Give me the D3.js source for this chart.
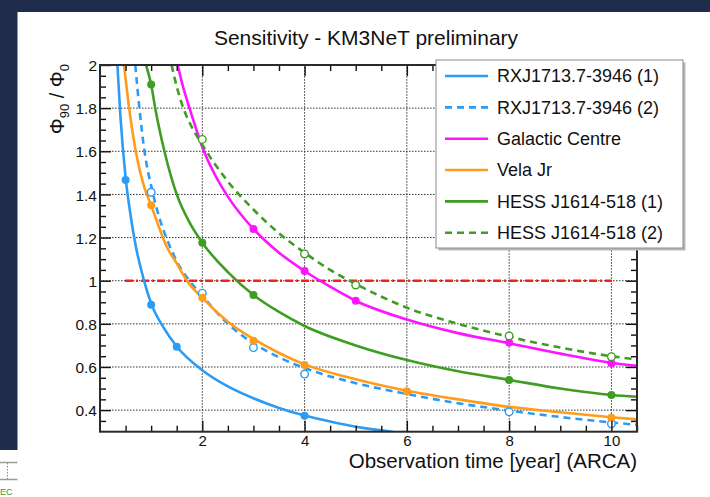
<!DOCTYPE html>
<html><head><meta charset="utf-8">
<script src="https://cdn.jsdelivr.net/npm/d3@7"></script>
<style>
body{margin:0;background:#fff}
svg{display:block}
text{font-family:"Liberation Sans",Arial,Helvetica,sans-serif;fill:#111}
</style></head>
<body><svg id="c" width="710" height="497"></svg>
<script>
// ---------------- data ----------------
const chartTitle = "Sensitivity - KM3NeT preliminary";
const xTitle = "Observation time [year] (ARCA)";
const xTicks = [2, 4, 6, 8, 10];
const xTickLabels = ["2", "4", "6", "8", "10"];
const yTicks = [0.4, 0.6, 0.8, 1, 1.2, 1.4, 1.6, 1.8, 2];
const yTickLabels = ["0.4", "0.6", "0.8", "1", "1.2", "1.4", "1.6", "1.8", "2"];
const legendNames = ["RXJ1713.7-3946 (1)", "RXJ1713.7-3946 (2)", "Galactic Centre", "Vela Jr", "HESS J1614-518 (1)", "HESS J1614-518 (2)"];
const thresholdValue = 1;
const thresholdRange = [0.49, 10];

// fitted curves
const rxj1X = [0.34, 0.4, 0.5, 0.6, 0.7, 0.85, 1.0, 1.25, 1.5, 2.0, 2.5, 3.0, 3.5, 4.0, 4.5, 5.0, 5.72];
const rxj1Y = [2.0, 1.76, 1.48, 1.30, 1.16, 1.01, 0.895, 0.78, 0.695, 0.585, 0.51, 0.455, 0.41, 0.375, 0.347, 0.323, 0.30];
const rxj2X = [0.69, 0.77, 0.87, 1.02, 1.15, 1.33, 1.5, 1.75, 2.0, 2.5, 3.0, 3.5, 4.0, 5.0, 6.0, 7.0, 8.0, 9.0, 10.0, 10.5];
const rxj2Y = [2.0, 1.8, 1.6, 1.42, 1.30, 1.18, 1.09, 1.0, 0.93, 0.80, 0.71, 0.645, 0.595, 0.525, 0.475, 0.432, 0.398, 0.368, 0.343, 0.332];
const gcX = [1.52, 1.6, 1.75, 1.9, 2.0, 2.25, 2.5, 3.0, 3.5, 4.0, 4.5, 5.0, 6.0, 7.0, 8.0, 9.0, 10.0, 10.5];
const gcY = [2.0, 1.92, 1.8, 1.69, 1.62, 1.49, 1.39, 1.24, 1.13, 1.045, 0.972, 0.907, 0.82, 0.757, 0.71, 0.662, 0.62, 0.605];
const velaX = [0.47, 0.57, 0.70, 0.87, 1.0, 1.15, 1.3, 1.5, 1.7, 2.0, 2.5, 3.0, 3.5, 4.0, 5.0, 6.0, 7.0, 8.0, 9.0, 10.0, 10.5];
const velaY = [2.0, 1.8, 1.6, 1.43, 1.35, 1.25, 1.16, 1.08, 1.0, 0.92, 0.81, 0.73, 0.665, 0.612, 0.543, 0.49, 0.45, 0.415, 0.39, 0.367, 0.357];
const hess1X = [0.9, 1.0, 1.08, 1.26, 1.5, 1.75, 2.0, 2.5, 3.0, 3.5, 4.0, 5.0, 6.0, 7.0, 8.0, 9.0, 10.0, 10.5];
const hess1Y = [2.0, 1.91, 1.8, 1.6, 1.4, 1.27, 1.176, 1.04, 0.934, 0.855, 0.79, 0.70, 0.632, 0.58, 0.54, 0.50, 0.47, 0.462];
const hess2X = [1.40, 1.5, 1.63, 1.8, 2.0, 2.5, 3.0, 3.5, 4.0, 4.5, 5.0, 6.0, 7.0, 8.0, 9.0, 10.0, 10.5];
const hess2Y = [2.0, 1.90, 1.8, 1.71, 1.63, 1.46, 1.33, 1.22, 1.13, 1.05, 0.985, 0.875, 0.80, 0.74, 0.69, 0.65, 0.635];

// measured points (markers)
const rxj1PtX = [0.5, 1, 1.5, 4];
const rxj1PtY = [1.467, 0.889, 0.694, 0.374];
const rxj2PtX = [1, 2, 3, 4, 8, 10];
const rxj2PtY = [1.41, 0.942, 0.69, 0.567, 0.392, 0.337];
const gcPtX = [3, 4, 5, 8, 10];
const gcPtY = [1.24, 1.045, 0.907, 0.713, 0.617];
const velaPtX = [1, 2, 3, 4, 6, 10];
const velaPtY = [1.35, 0.921, 0.722, 0.609, 0.487, 0.365];
const hess1PtX = [1, 2, 3, 8, 10];
const hess1PtY = [1.91, 1.176, 0.934, 0.54, 0.47];
const hess2PtX = [2, 4, 5, 8, 10];
const hess2PtY = [1.655, 1.124, 0.98, 0.744, 0.648];

// ---------------- build ----------------
const C_BLUE = "#2b9cf6", C_MAG = "#ff14ff", C_ORA = "#ff9c1c", C_GRN = "#3e9d22", C_RED = "#ff1a1a";
const series = [
  {name: legendNames[0], cx: rxj1X, cy: rxj1Y, px: rxj1PtX, py: rxj1PtY, color: C_BLUE, dash: null, open: false},
  {name: legendNames[1], cx: rxj2X, cy: rxj2Y, px: rxj2PtX, py: rxj2PtY, color: C_BLUE, dash: "7,5", open: true},
  {name: legendNames[2], cx: gcX, cy: gcY, px: gcPtX, py: gcPtY, color: C_MAG, dash: null, open: false},
  {name: legendNames[3], cx: velaX, cy: velaY, px: velaPtX, py: velaPtY, color: C_ORA, dash: null, open: false},
  {name: legendNames[4], cx: hess1X, cy: hess1Y, px: hess1PtX, py: hess1PtY, color: C_GRN, dash: null, open: false},
  {name: legendNames[5], cx: hess2X, cy: hess2Y, px: hess2PtX, py: hess2PtY, color: C_GRN, dash: "7,5", open: true}
];

const svg = d3.select("#c");
const L = 100, R = 637, T = 65, B = 431.7;
const x = d3.scaleLinear().domain([0, 10.5]).range([L, R]);
const y = d3.scaleLinear().domain([0.3, 2]).range([B, T]);

// page background (slide frame)
svg.append("rect").attr("x", 0).attr("y", 0).attr("width", 710).attr("height", 497).attr("fill", "#fff");
svg.append("rect").attr("x", 0).attr("y", 0).attr("width", 710).attr("height", 12).attr("fill", "#1f2c4b");
svg.append("rect").attr("x", 0).attr("y", 0).attr("width", 17.5).attr("height", 450).attr("fill", "#1f2c4b");
svg.append("line").attr("x1", 0).attr("x2", 17.5).attr("y1", 462.5).attr("y2", 462.5).attr("stroke", "#9a9a9a").attr("stroke-width", 1.5);
svg.append("line").attr("x1", 0).attr("x2", 17.5).attr("y1", 479.5).attr("y2", 479.5).attr("stroke", "#9a9a9a").attr("stroke-width", 1.5);
svg.append("line").attr("x1", 7.5).attr("x2", 7.5).attr("y1", 463).attr("y2", 479).attr("stroke", "#888").attr("stroke-dasharray", "1.5,1.5");
svg.append("text").attr("x", 0).attr("y", 495).attr("font-size", 9).style("fill", "#3a9a3a").text("EC");

// clip
svg.append("clipPath").attr("id", "plotclip").append("rect")
  .attr("x", L).attr("y", T).attr("width", R - L).attr("height", B - T);

// grid
const grid = svg.append("g").attr("stroke", "#333").attr("stroke-width", 1).attr("stroke-dasharray", "1.5,1.5");
grid.selectAll(".gx").data(xTicks).join("line")
  .attr("x1", d => x(d)).attr("x2", d => x(d)).attr("y1", B).attr("y2", T);
grid.selectAll(".gy").data(yTicks).join("line")
  .attr("x1", L).attr("x2", R).attr("y1", d => y(d)).attr("y2", d => y(d));

// threshold line
svg.append("line")
  .attr("x1", x(thresholdRange[0])).attr("x2", x(thresholdRange[1]))
  .attr("y1", y(thresholdValue)).attr("y2", y(thresholdValue))
  .attr("stroke", C_RED).attr("stroke-width", 2.5).attr("stroke-dasharray", "8,3,2,3");

// curves
const plot = svg.append("g").attr("clip-path", "url(#plotclip)");
const line = d3.line().x(d => x(d[0])).y(d => y(d[1])).curve(d3.curveMonotoneX);
series.forEach(s => {
  const pts = s.cx.map((v, i) => [v, s.cy[i]]);
  plot.append("path").attr("d", line(pts)).attr("fill", "none")
    .attr("stroke", s.color).attr("stroke-width", 2.6)
    .attr("stroke-dasharray", s.dash);
});
series.forEach(s => {
  const pts = s.px.map((v, i) => [v, s.py[i]]);
  plot.selectAll(null).data(pts).join("circle")
    .attr("cx", d => x(d[0])).attr("cy", d => y(d[1])).attr("r", s.open ? 3.8 : 4)
    .attr("fill", s.open ? "#fff" : s.color)
    .attr("stroke", s.color).attr("stroke-width", s.open ? 1.4 : 0);
});

// axes
const minorX = d3.range(0.5, 10.51, 0.5).filter(v => Math.abs(v / 2 - Math.round(v / 2)) > 1e-6);
const minorY = d3.range(0.35, 2.0, 0.05).filter(v => !yTicks.some(t => Math.abs(t - v) < 1e-6));

function styleAxis(g) {
  g.select(".domain").remove();
  g.selectAll(".tick line").attr("stroke", "#111").attr("stroke-width", 1.4);
}
const gB = svg.append("g").attr("transform", `translate(0,${B})`)
  .call(d3.axisBottom(x).tickValues(xTicks).tickSize(-11).tickPadding(4).tickFormat((d, i) => xTickLabels[i]));
styleAxis(gB);
gB.selectAll(".tick text").attr("font-size", 15).attr("dy", null).attr("y", 14).style("fill", "#111");
svg.append("g").attr("transform", `translate(0,${B})`)
  .call(d3.axisBottom(x).tickValues(minorX).tickSize(-6).tickFormat("")).call(styleAxis);
svg.append("g").attr("transform", `translate(0,${T})`)
  .call(d3.axisTop(x).tickValues(xTicks).tickSize(-11).tickFormat("")).call(styleAxis);
svg.append("g").attr("transform", `translate(0,${T})`)
  .call(d3.axisTop(x).tickValues(minorX).tickSize(-6).tickFormat("")).call(styleAxis);

const gL = svg.append("g").attr("transform", `translate(${L},0)`)
  .call(d3.axisLeft(y).tickValues(yTicks).tickSize(-11).tickPadding(3).tickFormat((d, i) => yTickLabels[i]));
styleAxis(gL);
gL.selectAll(".tick text").attr("font-size", 15.5).attr("dy", "0.36em").style("fill", "#111");
svg.append("g").attr("transform", `translate(${L},0)`)
  .call(d3.axisLeft(y).tickValues(minorY).tickSize(-6).tickFormat("")).call(styleAxis);
svg.append("g").attr("transform", `translate(${R},0)`)
  .call(d3.axisRight(y).tickValues(yTicks).tickSize(-11).tickFormat("")).call(styleAxis);
svg.append("g").attr("transform", `translate(${R},0)`)
  .call(d3.axisRight(y).tickValues(minorY).tickSize(-6).tickFormat("")).call(styleAxis);

// frame
svg.append("rect").attr("x", L).attr("y", T).attr("width", R - L).attr("height", B - T)
  .attr("fill", "none").attr("stroke", "#2a2a2a").attr("stroke-width", 2);

// titles
svg.append("text").attr("x", 366).attr("y", 44.5).attr("text-anchor", "middle")
  .attr("font-size", 21).text(chartTitle);
svg.append("text").attr("x", R).attr("y", 468).attr("text-anchor", "end")
  .attr("font-size", 20.5).text(xTitle);
const yt = svg.append("text").attr("transform", "translate(64,64) rotate(-90)")
  .attr("text-anchor", "end").attr("font-size", 20);
yt.append("tspan").text("Φ");
yt.append("tspan").attr("font-size", 13).attr("dy", 5).text("90");
yt.append("tspan").attr("dy", -5).text(" / Φ");
yt.append("tspan").attr("font-size", 13).attr("dy", 5).text("0");

// legend
const LX = 436, LY = 60, LW = 247, LH = 188;
svg.append("rect").attr("x", LX + 2.5).attr("y", LY + 2.5).attr("width", LW).attr("height", LH).attr("fill", "#b8b8b8");
svg.append("rect").attr("x", LX).attr("y", LY).attr("width", LW).attr("height", LH)
  .attr("fill", "#fff").attr("stroke", "#8a8a8a").attr("stroke-width", 1);
const rowY = d3.scaleLinear().domain([0, 5]).range([76, 232.7]);
series.forEach((s, i) => {
  svg.append("line").attr("x1", 445).attr("x2", 488).attr("y1", rowY(i)).attr("y2", rowY(i))
    .attr("stroke", s.color).attr("stroke-width", 2.6).attr("stroke-dasharray", s.dash);
  svg.append("text").attr("x", 497).attr("y", rowY(i) + 6.3).attr("font-size", 18).text(s.name);
});
</script>
</body></html>
